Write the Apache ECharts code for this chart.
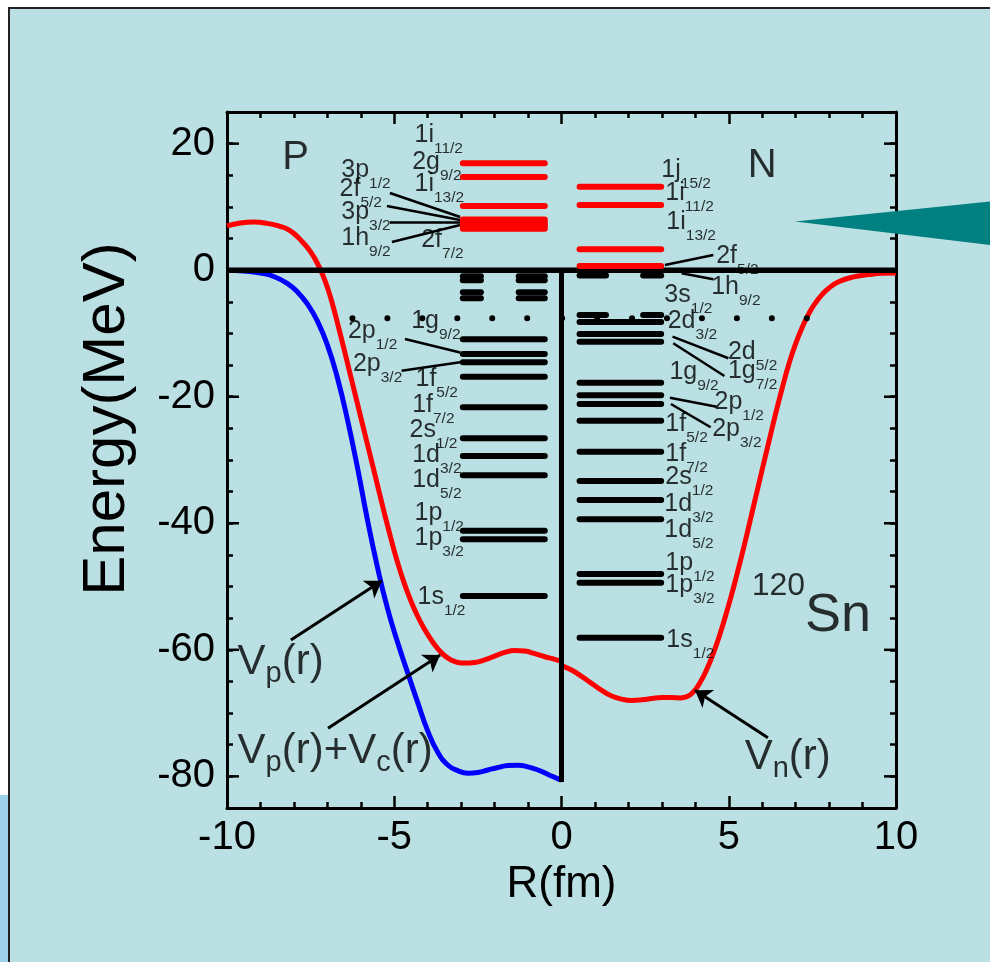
<!DOCTYPE html>
<html>
<head>
<meta charset="utf-8">
<script src="https://cdn.jsdelivr.net/npm/echarts@6/dist/echarts.min.js"></script>
<style>
  html, body { margin: 0; padding: 0; background: #ffffff; overflow: hidden; }
  #edge  { position: absolute; left: 0; top: 795px; width: 8px; height: 167px; background: #9ED2EA; }
  #panel { position: absolute; left: 8px; top: 7px; width: 990px; height: 962px;
           background: #BBE0E3; border-left: 2px solid #222; border-top: 2px solid #222; box-sizing: border-box; }
  #chart { position: absolute; left: 0; top: 0; width: 990px; height: 962px; }
</style>
</head>
<body>
<div id="edge"></div>
<div id="panel"></div>
<div id="chart"></div>
<script>
const FONT = '"Liberation Sans", Arial, Helvetica, sans-serif';

// ---- single-particle levels of 120Sn (MeV) ----
const protonBound     = [-10.92, -13.24, -14.56, -16.83, -21.67, -26.57, -29.37, -32.42, -41.17, -42.53, -51.49];
const protonResonant  = [-0.96, -1.6, -3.5, -4.45];
const protonUnbound   = [16.9, 14.73, 10.15, 8.0, 7.6, 7.25, 6.9, 6.55];
const neutronBound    = [-8.2, -10.08, -11.3, -17.78, -19.77, -21.15, -23.79, -28.69, -33.32, -36.32, -39.37, -48.02, -49.39, -58.08];
const neutronResonant = [-0.84, -7.1];
const neutronUnbound  = [13.2, 10.3, 3.3, 0.66];
const fermiLevel = -7.6;
const fermiRange = [-6.25, 7.35];

// radial extent (fm) of the level bars on each side
const protonSpan   = [[-2.95, -0.5]];
const protonDash   = [[-2.95, -2.41], [-1.28, -0.5]];
const neutronSpan  = [[0.54, 2.98]];
const neutronDash  = [[0.54, 1.33], [2.44, 2.98]];

// ---- mean-field potentials, [r (fm), V (MeV)] ----
const vProtonCoulomb = [
  [-10, 7.0], [-9.6, 7.45], [-9.2, 7.6], [-8.8, 7.4], [-8.4, 6.9], [-8.2, 6.5], [-8.0, 5.8], [-7.75, 4.5],
  [-7.5, 2.9], [-7.3, 1.1], [-7.15, -0.6], [-7.0, -2.7], [-6.85, -5.3], [-6.7, -8.3], [-6.5, -12.5],
  [-6.3, -16.8], [-6.1, -21.1], [-5.9, -25.4], [-5.7, -29.7], [-5.5, -34.0], [-5.3, -38.3], [-5.1, -42.4],
  [-4.9, -46.2], [-4.7, -49.5], [-4.5, -52.3], [-4.3, -54.7], [-4.1, -56.7], [-3.9, -58.4], [-3.7, -59.8],
  [-3.5, -60.9], [-3.3, -61.6], [-3.1, -62.0], [-2.9, -62.1], [-2.6, -62.0], [-2.3, -61.6], [-2.0, -61.0],
  [-1.7, -60.4], [-1.4, -60.1], [-1.1, -60.2], [-0.8, -60.6], [-0.5, -61.1], [-0.2, -61.5], [0, -61.8]
];
const vProton = [
  [-10, 0.0], [-9.5, -0.12], [-9.0, -0.45], [-8.6, -1.0], [-8.2, -2.1], [-7.9, -3.4], [-7.6, -5.3],
  [-7.3, -8.0], [-7.0, -11.8], [-6.7, -17.0], [-6.4, -23.6], [-6.1, -31.2], [-5.8, -39.5], [-5.5, -47.0],
  [-5.2, -53.5], [-4.9, -58.8], [-4.6, -63.6], [-4.3, -68.3], [-4.0, -72.8], [-3.7, -76.2], [-3.4, -78.2],
  [-3.1, -79.1], [-2.8, -79.5], [-2.5, -79.4], [-2.2, -79.0], [-1.9, -78.6], [-1.6, -78.3], [-1.3, -78.25],
  [-1.0, -78.5], [-0.7, -79.0], [-0.4, -79.7], [-0.1, -80.4], [0, -80.6]
];
const vNeutron = [
  [0, -62.5], [0.3, -63.2], [0.6, -64.2], [0.9, -65.3], [1.2, -66.4], [1.5, -67.3], [1.8, -67.8], [2.1, -68.0],
  [2.4, -67.9], [2.7, -67.7], [3.0, -67.55], [3.3, -67.55], [3.55, -67.6], [3.75, -67.4], [3.95, -66.6], [4.15, -65.1],
  [4.35, -63.0], [4.55, -60.4], [4.75, -57.3], [4.95, -53.8], [5.15, -50.0], [5.35, -45.9], [5.55, -41.6], [5.75, -37.1],
  [6.0, -31.5], [6.2, -27.1], [6.4, -22.7], [6.6, -18.6], [6.8, -14.8], [7.0, -11.6], [7.2, -9.0], [7.4, -6.8],
  [7.6, -5.1], [7.8, -3.8], [8.0, -2.8], [8.3, -1.8], [8.7, -1.1], [9.2, -0.7], [9.6, -0.5], [10, -0.45]
];

// ---- axes ----
const xRange = [-10, 10];
const yRange = [-85, 25];
const yMajorTicks = [-80, -60, -40, -20, 0, 20];

// ---- level names: [r, E, orbital, j] (anchor = left / middle of orbital text) ----
const levelNames = [
  [-4.38, 21.21, '1i', '11/2'], [-4.45, 16.94, '2g', '9/2'], [-4.38, 13.55, '1i', '13/2'],
  [-6.57, 15.68, '3p', '1/2'], [-6.62, 12.68, '2f', '5/2'], [-6.57, 9.04, '3p', '3/2'],
  [-6.57, 4.93, '1h', '9/2'], [-4.18, 4.62, '2f', '7/2'],
  [-4.48, -8.14, '1g', '9/2'], [-6.37, -9.72, '2p', '1/2'], [-6.22, -14.98, '2p', '3/2'],
  [-4.35, -17.35, '1f', '5/2'], [-4.45, -21.43, '1f', '7/2'], [-4.53, -25.34, '2s', '1/2'],
  [-4.45, -29.37, '1d', '3/2'], [-4.45, -33.32, '1d', '5/2'], [-4.38, -38.42, '1p', '1/2'],
  [-4.38, -42.48, '1p', '3/2'], [-4.29, -51.73, '1s', '1/2'],
  [3.0, 15.68, '1j', '15/2'], [3.12, 12.04, '1i', '11/2'], [3.15, 7.46, '1i', '13/2'],
  [4.64, 2.09, '2f', '5/2'], [4.49, -2.73, '1h', '9/2'], [3.09, -4.08, '3s', '1/2'],
  [3.19, -8.14, '2d', '3/2'], [4.99, -13.09, '2d', '5/2'], [4.99, -16.09, '1g', '7/2'],
  [3.24, -16.25, '1g', '9/2'], [4.59, -20.99, '2p', '1/2'], [4.52, -25.18, '2p', '3/2'],
  [3.12, -24.47, '1f', '5/2'], [3.12, -29.21, '1f', '7/2'], [3.12, -32.84, '2s', '1/2'],
  [3.09, -37.11, '1d', '3/2'], [3.09, -41.22, '1d', '5/2'], [3.12, -46.44, '1p', '1/2'],
  [3.12, -49.91, '1p', '3/2'], [3.15, -58.53, '1s', '1/2']
];

// leader lines from names to crowded levels
const leaderLines = [
  [[-5.13, 12.2], [-3.03, 8.41]], [[-5.22, 10.15], [-3.03, 7.93]], [[-5.13, 7.62], [-3.03, 7.62]],
  [[-5.07, 4.46], [-3.03, 7.14]], [[-4.68, -10.87], [-3.03, -13.0]], [[-4.78, -15.88], [-3.03, -14.56]],
  [[3.09, 0.82], [4.54, 2.4]], [[3.59, -0.49], [4.54, -1.44]], [[3.32, -10.51], [4.99, -13.92]],
  [[3.34, -11.55], [4.87, -16.72]], [[3.24, -20.15], [4.64, -21.57]], [[3.27, -21.15], [4.46, -24.83]]
];

// arrows from the potential names to their curves
const arrows = [
  [[-8.09, -58.45], [-5.37, -49.1]],
  [[-6.98, -72.4], [-3.63, -60.8]],
  [[6.17, -73.9], [3.99, -66.4]]
];

// other captions: [r, E, rich text]
const captions = [
  [-8.33, 17.73, '{big|P}'],
  [5.58, 16.47, '{big|N}'],
  [5.7, -54.8, '{sup|120}{sn|Sn}'],
  [-9.67, -62.12, '{vm|V}{vs|p}{vm|(r)}'],
  [-9.67, -76.18, '{vm|V}{vs|p}{vm|(r)+V}{vs|c}{vm|(r)}'],
  [5.49, -77.13, '{vm|V}{vs|n}{vm|(r)}']
];

function levelItems(levels, spans, colorIndex) {
  const out = [];
  levels.forEach(e => spans.forEach(s => out.push([s[0], s[1], e, colorIndex])));
  return out;
}
const levelData = [].concat(
  levelItems(protonBound, protonSpan, 0),
  levelItems(protonResonant, protonDash, 0),
  levelItems(protonUnbound, protonSpan, 1),
  levelItems(neutronBound, neutronSpan, 0),
  levelItems(neutronResonant, neutronDash, 0),
  levelItems(neutronUnbound, neutronSpan, 1)
);
const levelColors = ['#000000', '#ff0000'];

const richStyles = {
  m:   { fontFamily: FONT, fontSize: 25, color: '#000', verticalAlign: 'middle' },
  s:   { fontFamily: FONT, fontSize: 15.5, color: '#000', verticalAlign: 'middle', padding: [27, 0, 0, 0] },
  big: { fontFamily: FONT, fontSize: 40, color: '#000', verticalAlign: 'middle' },
  vm:  { fontFamily: FONT, fontSize: 42, color: '#000', verticalAlign: 'middle' },
  vs:  { fontFamily: FONT, fontSize: 29, color: '#000', verticalAlign: 'middle', padding: [22, 0, 0, 0] },
  sn:  { fontFamily: FONT, fontSize: 54, color: '#000', verticalAlign: 'middle' },
  sup: { fontFamily: FONT, fontSize: 32, color: '#000', verticalAlign: 'middle', padding: [0, 0, 60, 0] }
};

const textItems = levelNames.map(d => ({ value: [d[0], d[1]], label: { formatter: '{m|' + d[2] + '}{s|' + d[3] + '}' } }))
  .concat(captions.map(d => ({ value: [d[0], d[1]], label: { formatter: d[2] } })));

const axisCommon = {
  type: 'value',
  axisLine: { show: true, onZero: false, lineStyle: { color: '#000', width: 3 } },
  splitLine: { show: false },
  axisTick: { show: true, inside: true, lineStyle: { color: '#000', width: 2.5 } }
};

const chart = echarts.init(document.getElementById('chart'));
chart.setOption({
  animation: false,
  backgroundColor: 'transparent',
  grid: { left: 227, right: 94, top: 112, bottom: 154, containLabel: false },
  xAxis: [
    Object.assign({}, axisCommon, {
      min: xRange[0], max: xRange[1], interval: 5, position: 'bottom',
      axisTick: { show: true, inside: true, length: 12, lineStyle: { color: '#000', width: 2.5 } },
      minorTick: { show: true, splitNumber: 5, length: 6, lineStyle: { color: '#000', width: 2.5 } },
      axisLabel: { color: '#000', fontFamily: FONT, fontSize: 40, margin: 10 },
      name: 'R(fm)', nameLocation: 'middle', nameGap: 49,
      nameTextStyle: { color: '#000', fontFamily: FONT, fontSize: 44 }
    }),
    Object.assign({}, axisCommon, {
      min: xRange[0], max: xRange[1], interval: 5, position: 'top',
      axisTick: { show: true, inside: true, length: 12, lineStyle: { color: '#000', width: 2.5 } },
      minorTick: { show: true, splitNumber: 5, length: 6, lineStyle: { color: '#000', width: 2.5 } },
      axisLabel: { show: false }
    })
  ],
  yAxis: [
    Object.assign({}, axisCommon, {
      min: yRange[0], max: yRange[1], interval: 5, position: 'left',
      axisTick: { show: true, inside: true, length: 6, lineStyle: { color: '#000', width: 2.5 } },
      axisLabel: { color: '#000', fontFamily: FONT, fontSize: 40, margin: 12,
        formatter: v => (yMajorTicks.indexOf(v) >= 0 ? String(v) : '') }
    }),
    Object.assign({}, axisCommon, {
      min: yRange[0], max: yRange[1], interval: 5, position: 'right',
      axisTick: { show: true, inside: true, length: 6, lineStyle: { color: '#000', width: 2.5 } },
      axisLabel: { show: false }
    })
  ],
  series: [
    { // long ticks at the labelled energies, both sides
      type: 'custom', clip: false, silent: true, z: 6,
      data: yMajorTicks.map(v => [v]),
      encode: { y: 0 },
      renderItem: (params, api) => {
        const l = api.coord([xRange[0], api.value(0)]);
        const r = api.coord([xRange[1], api.value(0)]);
        return { type: 'group', children: [
          { type: 'line', shape: { x1: l[0], y1: l[1], x2: l[0] + 12, y2: l[1] }, style: { stroke: '#000', lineWidth: 2.5 } },
          { type: 'line', shape: { x1: r[0], y1: r[1], x2: r[0] - 12, y2: r[1] }, style: { stroke: '#000', lineWidth: 2.5 } }
        ] };
      }
    },
    { type: 'line', name: 'Vp+Vc', data: vProtonCoulomb, smooth: 0.5, symbol: 'none', z: 3,
      lineStyle: { color: '#ff0000', width: 5 } },
    { type: 'line', name: 'Vp', data: vProton, smooth: 0.5, symbol: 'none', z: 3,
      lineStyle: { color: '#0000ff', width: 5 } },
    { type: 'line', name: 'Vn', data: vNeutron, smooth: 0.5, symbol: 'none', z: 3,
      lineStyle: { color: '#ff0000', width: 5 } },
    { type: 'line', name: 'zero', data: [[xRange[0], 0], [xRange[1], 0]], symbol: 'none', z: 5,
      lineStyle: { color: '#000', width: 5.5 } },
    { type: 'line', name: 'divider', data: [[0, 0], [0, -80.9]], symbol: 'none', z: 5,
      lineStyle: { color: '#000', width: 5 } },
    { type: 'line', name: 'Fermi', data: [[fermiRange[0], fermiLevel], [fermiRange[1], fermiLevel]], symbol: 'none', z: 4,
      lineStyle: { color: '#000', width: 6, type: [0.01, 34.94], cap: 'round' } },
    { type: 'custom', name: 'levels', silent: true, z: 6,
      data: levelData, encode: { x: [0, 1], y: 2 },
      renderItem: (params, api) => {
        const a = api.coord([api.value(0), api.value(2)]);
        const b = api.coord([api.value(1), api.value(2)]);
        return { type: 'line', shape: { x1: a[0], y1: a[1], x2: b[0], y2: b[1] },
          style: { stroke: levelColors[api.value(3)], lineWidth: 6, lineCap: 'round' } };
      }
    },
    { type: 'lines', coordinateSystem: 'cartesian2d', silent: true, z: 4,
      data: leaderLines.map(c => ({ coords: c })), symbol: ['none', 'none'],
      lineStyle: { color: '#000', width: 2.5, opacity: 1 } },
    { type: 'lines', coordinateSystem: 'cartesian2d', silent: true, z: 4,
      data: arrows.map(c => ({ coords: c })), symbol: ['none', 'arrow'], symbolSize: 16,
      lineStyle: { color: '#000', width: 3, opacity: 1 }, itemStyle: { color: '#000' } },
    { type: 'scatter', silent: true, z: 4, symbolSize: 1, itemStyle: { color: 'rgba(0,0,0,0)' },
      data: textItems,
      label: { show: true, position: [0, 0], align: 'left', verticalAlign: 'middle', rich: richStyles } }
  ],
  graphic: [
    { type: 'text', x: 107, y: 419, rotation: Math.PI / 2, z: 10,
      style: { text: 'Energy(MeV)', fill: '#000', font: '60px ' + FONT, textAlign: 'center', textVerticalAlign: 'middle' } },
    { type: 'polygon', z: 100, shape: { points: [[795, 221.5], [990, 201.5], [990, 245]] },
      style: { fill: '#008080' } }
  ]
});
</script>
</body>
</html>
